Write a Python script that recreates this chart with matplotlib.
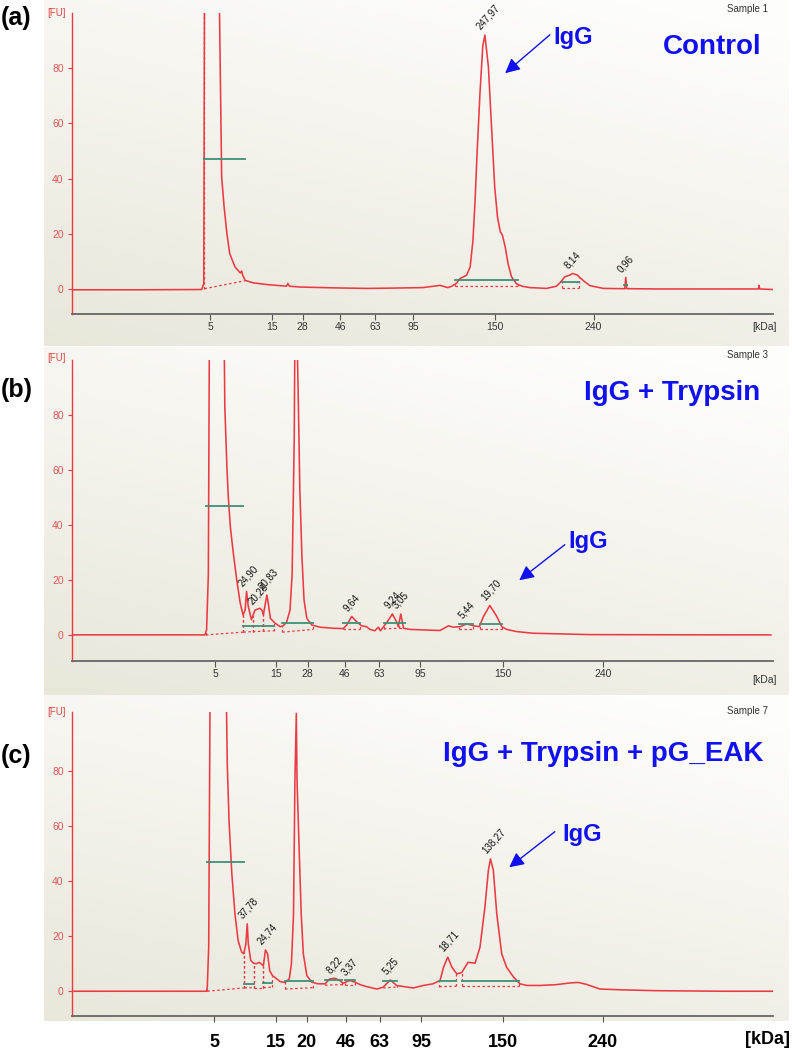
import matplotlib
matplotlib.use("Agg")
import matplotlib.pyplot as plt
import numpy as np

W, H = 792, 1050

# ---------------- data ----------------
# x is migration position (0..100 across the time axis), y is fluorescence [FU]
kda_labels_ab = ["5", "15", "28", "46", "63", "95", "150", "240"]
kda_labels_c = ["5", "15", "20", "46", "63", "95", "150", "240"]
kda_pos_a = [19.7, 28.6, 32.9, 38.3, 43.2, 48.7, 60.3, 74.4]
kda_pos_b = [20.4, 29.1, 33.6, 38.9, 43.8, 49.7, 61.5, 75.8]
kda_pos_c = [20.3, 29.1, 33.5, 39.1, 43.9, 49.8, 61.5, 75.7]
fu_ticks = [0, 20, 40, 60, 80]

a_x = [0, 10, 18.5, 18.8, 18.9, 19.95, 21.0, 21.1, 21.35, 21.7, 22.1, 22.5, 23.25, 24.0,
       24.2, 24.35, 24.7, 25.9, 27.8, 30.6, 30.8, 31.0, 32.5, 37.3, 42.0, 45.4, 50.1, 52.5,
       53.6, 54.2, 54.9, 55.3, 56.3, 56.8, 57.2, 57.5, 57.8, 58.2, 58.6, 58.9, 59.4, 59.9,
       60.3, 60.7, 61.1, 61.4, 61.8, 62.2, 62.7, 63.4, 64.2, 65.3, 67.7, 69.1, 69.6, 70.3,
       71.0, 71.4, 71.8, 72.1, 72.5, 73.2, 73.9, 75.8, 78.6, 78.85, 79.0, 79.15, 79.4, 83.4,
       97.9, 98.0, 98.1, 100]
a_y = [-0.3, -0.3, -0.2, 2.0, 110, 300, 110, 89, 40.6, 29.7, 20, 12.8, 8, 5.8,
       6.5, 5.0, 3.1, 2.2, 1.6, 1.0, 2.0, 1.0, 0.7, 0.4, 0.2, 0.3, 0.5, 1.3,
       0.5, 1.0, 2.2, 3.7, 5.0, 8.0, 17.7, 32, 50, 71, 88, 92, 80.5, 56.3,
       37, 26, 20.7, 19.5, 15.2, 9.2, 4.4, 1.9, 1.0, 0.5, 0.2, 1.0, 2.2, 4.4,
       5.0, 5.6, 5.3, 5.0, 4.0, 2.5, 1.2, 0.2, 0.1, 0.1, 4.2, 0.1, 0.1, 0.0,
       0.0, 1.3, 0.0, -0.2]

b_x = [0.19, 16.1, 18.97, 19.2, 19.45, 19.6, 20.65, 21.7, 21.8, 22.1, 22.3, 22.6, 23.0,
       23.5, 24.0, 24.4, 24.7, 24.9, 25.15, 25.6, 26.1, 26.8, 27.1, 27.3, 27.8, 28.0, 28.3,
       29.0, 29.7, 30.1, 30.6, 31.1, 31.4, 31.7, 31.8, 31.95, 32.1, 32.3, 32.5, 32.8, 33.1,
       33.5, 34.2, 35.4, 37.3, 38.7, 39.2, 39.9, 40.6, 41.3, 42.0, 42.5, 43.2, 43.7, 44.0,
       44.9, 45.7, 46.3, 46.55, 46.9, 47.3, 48.2, 50.1, 52.5, 53.7, 54.4, 55.4, 56.3, 57.3,
       58.1, 58.7, 59.6, 60.6, 61.3, 62.0, 63.4, 65.8, 69.1, 73.9, 92.9, 99.7]
b_y = [0, 0, 0, 1.8, 22, 110, 300, 110, 83, 61, 50, 39, 30,
       20, 11.5, 7.3, 9, 15.8, 10.3, 5.5, 9, 9.7, 9, 7.3, 14.5, 11.5, 6,
       4.2, 3, 3.3, 4.5, 9, 22, 71, 110, 250, 110, 83, 53, 28.5, 12.7,
       6, 3.6, 2.8, 2.4, 2.3, 3.6, 6.7, 4.8, 3.3, 3, 2, 1.5, 2.8, 1.5,
       4.5, 7.6, 4.8, 3, 7.6, 2.4, 2, 1.8, 1.6, 3.3, 2.8, 3, 4, 3.3,
       3, 6.7, 10.7, 6.7, 3, 2, 1.2, 0.6, 0.4, 0.1, 0, 0]

c_x = [0.29, 19.2, 19.3, 19.5, 19.7, 20.85, 22.0, 22.15, 22.4, 22.8, 23.25, 23.7, 24.2,
       24.5, 24.8, 25.0, 25.15, 25.5, 25.9, 26.3, 26.7, 27.1, 27.3, 27.6, 27.9, 28.2, 28.6,
       29.1, 29.7, 30.4, 31.0, 31.3, 31.6, 31.8, 32.0, 32.1, 32.4, 32.7, 33.0, 33.5, 34.2,
       35.1, 36.1, 36.8, 37.5, 38.2, 38.7, 39.6, 40.4, 41.1, 42.0, 43.5, 44.4, 45.4, 46.3,
       47.3, 48.7, 50.1, 51.5, 52.5, 53.0, 53.6, 54.2, 54.9, 55.6, 56.5, 57.5, 58.2, 58.9,
       59.4, 59.7, 60.1, 60.6, 61.3, 62.0, 63.0, 63.9, 64.9, 66.8, 69.1, 71.0, 72.2, 73.4,
       75.3, 78.6, 83.4, 92.9, 99.9]
c_y = [0, 0, 1.5, 16, 110, 300, 110, 82.7, 62, 42.7, 28, 18.4, 14.2,
       13.6, 17.2, 24.5, 17.2, 11.2, 10.2, 10, 10.5, 9.7, 9.3, 15, 13.6, 7.5, 5.7,
       4.7, 3.5, 3.2, 4.5, 10, 28, 76.6, 101, 76.6, 52, 28, 13.6, 5.7, 3.3,
       2.7, 2.7, 4.5, 4.7, 3.9, 2.9, 3.9, 3.3, 2.4, 1.7, 0.8, 1.5, 4.1, 2.1,
       1.7, 1.2, 2.1, 2.7, 3.9, 8.7, 12.4, 8.7, 6.3, 6.8, 10.5, 10.2, 16, 30.5,
       44, 48.1, 44, 28, 13.6, 8.7, 5.1, 2.7, 2.1, 2.1, 2.4, 3.0, 3.2, 2.5,
       0.8, 0.5, 0.2, 0, 0]

# integration windows: (start, end, green level or None, baseline at start, baseline at end)
a_windows = [(18.9, 24.7, 47, 0.1, 3.0), (54.6, 63.6, 3.2, 1.0, 1.0),
             (69.9, 72.3, 2.5, 0.5, 0.5), (78.8, 79.2, 1.5, 0.2, 0.2)]
b_windows = [(19.1, 24.4, 47, 0.0, 1.0), (24.45, 25.8, 3.3, 1.0, 1.2), (25.8, 27.2, 3.3, 1.2, 1.3),
             (27.2, 28.8, 3.3, 1.3, 1.5), (30.0, 34.4, 4.2, 1.0, 2.0), (38.7, 41.1, 4.2, 2.3, 2.3),
             (44.5, 46.6, 4.2, 2.2, 2.4), (46.6, 47.5, 4.2, 2.4, 2.4), (55.2, 57.2, 3.9, 2.2, 2.2),
             (58.2, 61.3, 3.9, 2.2, 2.2)]
c_windows = [(19.3, 24.5, 46.8, 0.0, 1.2), (24.6, 26.0, 2.5, 1.2, 1.3), (26.0, 27.2, None, 1.3, 1.3),
             (27.3, 28.6, 3.0, 1.3, 1.5), (30.4, 34.4, 3.7, 0.8, 1.3), (36.1, 38.5, 4.2, 2.2, 2.4),
             (38.9, 40.4, 4.2, 2.4, 2.4), (44.4, 46.3, 3.6, 1.2, 1.5), (52.4, 54.8, 3.9, 1.7, 1.8),
             (55.7, 63.8, 3.9, 1.8, 1.8)]

a_peaks = [("247,97", 58.9), ("8,14", 71.4), ("0,96", 79.0)]
b_peaks = [("24,90", 24.9), ("20,28", 26.3), ("20,83", 27.8), ("9,64", 39.9),
           ("9,24", 45.7), ("3,05", 46.9), ("5,44", 56.3), ("19,70", 59.6)]
c_peaks = [("37,78", 25.0), ("24,74", 27.6), ("8,22", 37.5), ("3,37", 39.6),
           ("5,25", 45.4), ("18,71", 53.6), ("138,27", 59.7)]

RED = "#ea3b44"
GREEN = "#3f8f74"
BLUE = "#1010f0"


def frac(px, py):
    return px / W, 1 - py / H


def rect(l, t, r, b):
    return [l / W, 1 - b / H, (r - l) / W, (b - t) / H]


def background(l, t, r, b):
    bg = fig.add_axes(rect(l, t, r, b), zorder=-5)
    u = np.linspace(0, 1, 200)[None, :]
    v = np.linspace(0, 1, 200)[:, None]
    t_ = np.clip(0.7 * v + 0.35 * (1 - u) - 0.05, 0, 1)
    light = np.array([0.995, 0.995, 0.99])
    dark = np.array([0.915, 0.905, 0.855])
    img = light + (dark - light) * t_[..., None]
    bg.imshow(img, aspect="auto", extent=[0, 1, 0, 1])
    bg.axis("off")


def panel(box, ylim, xs, ys, ticks, tick_labels, windows, peaks, big_ticks=False):
    ax = fig.add_axes(rect(*box))
    ax.set_facecolor("none")
    ax.set_xlim(0, 100)
    ax.set_ylim(*ylim)
    ax.plot(xs, ys, color=RED, lw=1.15, zorder=3)

    for x0, x1, g, b0, b1 in windows:
        ax.plot([x0, x1], [b0, b1], color=RED, lw=0.9, ls=(0, (2, 2)), zorder=2)
        for xe, be in ((x0, b0), (x1, b1)):
            top = np.interp(xe, xs, ys)
            if top > be + 0.3:
                ax.plot([xe, xe], [be, top], color=RED, lw=0.9, ls=(0, (2, 2)), zorder=2)
        if g is not None:
            ax.plot([x0, x1], [g, g], color=GREEN, lw=1.3, zorder=4)

    for lab, xp in peaks:
        yp = np.interp(xp, xs, ys)
        ax.text(xp - 0.4, yp + 1.2, lab, rotation=48, rotation_mode="anchor",
                ha="left", va="bottom", fontsize=7, color="#111")

    for s in ("top", "right"):
        ax.spines[s].set_visible(False)
    ax.spines["left"].set_color(RED)
    ax.spines["left"].set_linewidth(1.0)
    ax.spines["bottom"].set_color("#666666")
    ax.spines["bottom"].set_linewidth(1.3)
    ax.set_yticks(fu_ticks)
    ax.tick_params(axis="y", colors=RED, labelcolor="#e05a5a", labelsize=7.5,
                   length=3, width=0.8, pad=3)
    ax.set_xticks(ticks)
    ax.set_xticklabels(tick_labels)
    if big_ticks:
        ax.tick_params(axis="x", colors="#555", labelcolor="black", length=4, width=0.8,
                       pad=9, labelsize=13)
        for t in ax.get_xticklabels():
            t.set_fontweight("bold")
    else:
        ax.tick_params(axis="x", colors="#555", labelcolor="#333", length=4, width=0.8,
                       pad=2, labelsize=7.5)
    return ax


fig = plt.figure(figsize=(W / 100, H / 100), dpi=100)
plt.rcParams["font.family"] = ["Liberation Sans", "DejaVu Sans"]

background(44, 0, 788, 346)
background(44, 347, 788, 695)
background(44, 695, 788, 1021)

panel((72, 13, 773, 313.8), (-9, 100), a_x, a_y, kda_pos_a, kda_labels_ab, a_windows, a_peaks)
panel((72, 360, 773, 661), (-9.5, 100), b_x, b_y, kda_pos_b, kda_labels_ab, b_windows, b_peaks)
panel((72, 712, 773, 1016), (-9, 101.5), c_x, c_y, kda_pos_c, kda_labels_c, c_windows, c_peaks,
      big_ticks=True)

# axis unit labels
for top in (13, 358, 712):
    fig.text(*frac(66, top), "[FU]", color="#e04848", fontsize=7, ha="right", va="center")
fig.text(*frac(777, 327), "[kDa]", color="#333", fontsize=7.5, ha="right", va="center")
fig.text(*frac(777, 680), "[kDa]", color="#333", fontsize=7.5, ha="right", va="center")
fig.text(*frac(790, 1040), "[kDa]", color="black", fontsize=13, fontweight="bold",
         ha="right", va="center")

# panel letters and sample names
for lab, y in (("(a)", 18), ("(b)", 390), ("(c)", 756)):
    fig.text(*frac(1, y), lab, fontsize=18, fontweight="bold", ha="left", va="center")
for lab, y in (("Sample 1", 9), ("Sample 3", 355), ("Sample 7", 711)):
    fig.text(*frac(768, y), lab, fontsize=7, color="#333", ha="right", va="center")

# blue titles
fig.text(*frac(761, 54), "Control", fontsize=20, fontweight="bold", color=BLUE,
         ha="right", va="baseline")
fig.text(*frac(760, 400), "IgG + Trypsin", fontsize=20, fontweight="bold", color=BLUE,
         ha="right", va="baseline")
fig.text(*frac(763, 761), "IgG + Trypsin + pG_EAK", fontsize=20, fontweight="bold", color=BLUE,
         ha="right", va="baseline")

# IgG call-outs
for (tx, ty), (ax0, ay0), (hx, hy) in (((553, 44), (552, 33), (503, 75)),
                                        ((568, 548), (567, 543), (517, 582)),
                                        ((562, 841), (557, 830), (507, 869))):
    fig.text(*frac(tx, ty), "IgG", fontsize=17, fontweight="bold", color=BLUE,
             ha="left", va="baseline")
    fig.add_artist(matplotlib.patches.FancyArrowPatch(
        frac(ax0, ay0), frac(hx, hy), transform=fig.transFigure, arrowstyle="-|>",
        mutation_scale=22, color=BLUE, lw=1.0))

fig.savefig("out.png", dpi=100)
